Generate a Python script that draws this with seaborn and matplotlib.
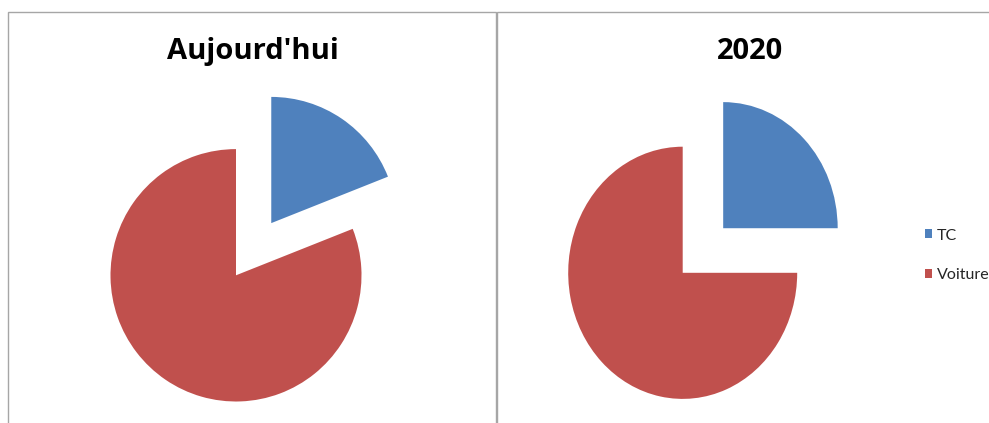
import matplotlib
matplotlib.use("Agg")
import matplotlib.pyplot as plt
from matplotlib.patches import Rectangle
import seaborn as sns

sns.set_theme(style="white")
plt.rcParams['font.family'] = ['Lato', 'DejaVu Sans']

# ---- data ----
categories = ["TC", "Voiture"]
titles = ["Aujourd'hui", "2020"]
today_values = [19, 81]
future_values = [25, 75]
colors = ["#4F81BD", "#C0504D"]

W, H = 989, 423
fig = plt.figure(figsize=(W / 100, H / 100), dpi=100)
fig.patch.set_facecolor("white")

def pie_axes(cx, cy, rx, ry):
    ax = fig.add_axes([0, 0, 1, 1])
    ax.set_axis_off()
    return ax, (-cx / rx, (W - cx) / rx), ((cy - H) / ry, cy / ry)

# panel borders
border = "#A6A6A6"
fig.add_artist(Rectangle((8 / W, -0.1), (496 - 8) / W, 1.1 - 12 / H,
                         transform=fig.transFigure, fill=False, ec=border, lw=1.0))
fig.add_artist(Rectangle((497 / W, -0.1), (1010 - 497) / W, 1.1 - 12 / H,
                         transform=fig.transFigure, fill=False, ec=border, lw=1.0))

specs = [
    (today_values, 236, 275.3, 125.5, 126.2, 252.5),
    (future_values, 682.7, 272.8, 114.5, 126.1, 750.3),
]
wedges_all = None
for (vals, cx, cy, rx, ry, tx), title in zip(specs, titles):
    ax, xl, yl = pie_axes(cx, cy, rx, ry)
    wedges, _ = ax.pie(vals, colors=colors, startangle=90, counterclock=False,
                       explode=[0.5, 0.0], radius=1.0,
                       wedgeprops=dict(linewidth=0))
    ax.set_aspect("auto")
    ax.set_xlim(*xl)
    ax.set_ylim(*yl)
    if wedges_all is None:
        wedges_all = wedges
    fig.text(tx / W, 1 - 59.3 / H, title, ha="center", va="baseline",
             fontsize=21, fontweight="bold", color="black",
             family=["Open Sans", "DejaVu Sans"])

leg = fig.legend(wedges_all, categories, loc="upper left",
                 bbox_to_anchor=(924.5 / W, 1 - 228.5 / H), frameon=False,
                 fontsize=11.5, handlelength=0.5, handleheight=0.5,
                 handletextpad=0.25, labelspacing=1.6, borderpad=0,
                 borderaxespad=0)

fig.savefig("out.png", dpi=100, facecolor="white")
